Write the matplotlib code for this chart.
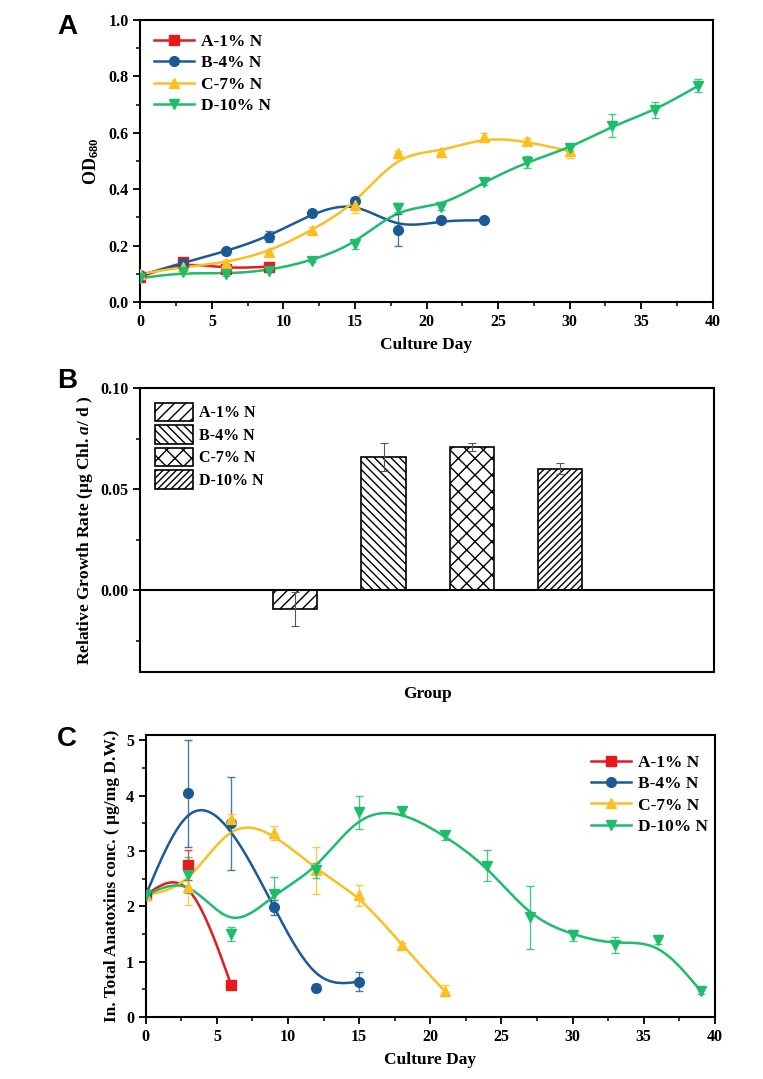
import matplotlib
matplotlib.use("Agg")
import matplotlib.pyplot as plt
import numpy as np
from matplotlib.ticker import MultipleLocator, FormatStrFormatter
from matplotlib.patches import Patch

plt.rcParams['font.family'] = ['Liberation Serif', 'DejaVu Serif']
plt.rcParams['font.weight'] = 'bold'
plt.rcParams['axes.labelweight'] = 'bold'
plt.rcParams['mathtext.fontset'] = 'custom'
plt.rcParams['mathtext.rm'] = 'Liberation Serif:bold'
plt.rcParams['mathtext.it'] = 'Liberation Serif:bold:italic'
plt.rcParams['mathtext.bf'] = 'Liberation Serif:bold'
plt.rcParams['hatch.linewidth'] = 1.0

groups = ['A-1% N', 'B-4% N', 'C-7% N', 'D-10% N']
colors = ['#e8181c', '#1b5a98', '#fbbf22', '#1dbd6b']
markers = ['s', 'o', '^', 'v']

# panel A: OD680 growth curves
od_days = [
    [0, 3, 6, 9],
    [0, 3, 6, 9, 12, 15, 18, 21, 24],
    [0, 3, 6, 9, 12, 15, 18, 21, 24, 27, 30],
    [0, 3, 6, 9, 12, 15, 18, 21, 24, 27, 30, 33, 36, 39],
]
od_vals = [
    [0.090, 0.143, 0.118, 0.126],
    [0.095, 0.140, 0.180, 0.232, 0.315, 0.360, 0.257, 0.290, 0.290],
    [0.100, 0.125, 0.140, 0.178, 0.255, 0.345, 0.527, 0.532, 0.585, 0.570, 0.535],
    [0.085, 0.105, 0.100, 0.112, 0.147, 0.205, 0.335, 0.337, 0.425, 0.497, 0.545, 0.625, 0.680, 0.767],
]
od_err = [
    [0.005, 0.008, 0.008, 0.006],
    [0.005, 0.008, 0.012, 0.020, 0.008, 0.010, 0.057, 0.006, 0.005],
    [0.005, 0.008, 0.008, 0.008, 0.010, 0.028, 0.008, 0.008, 0.015, 0.010, 0.025],
    [0.005, 0.006, 0.006, 0.006, 0.006, 0.015, 0.015, 0.010, 0.010, 0.020, 0.010, 0.040, 0.028, 0.022],
]

# panel B: relative growth rate
rgr_vals = [-0.0091, 0.0662, 0.0710, 0.0603]
rgr_err = [0.0083, 0.0070, 0.0020, 0.0027]
hatches = ['///', '\\\\\\\\', 'xx', '/////']

# panel C: anatoxins
atx_days = [
    [0, 3, 6],
    [0, 3, 6, 9, 12, 15],
    [0, 3, 6, 9, 12, 15, 18, 21],
    [0, 3, 6, 9, 12, 15, 18, 21, 24, 27, 30, 33, 36, 39],
]
atx_vals = [
    [2.20, 2.75, 0.58],
    [2.20, 4.04, 3.50, 1.98, 0.53, 0.64],
    [2.20, 2.35, 3.58, 3.33, 2.65, 2.20, 1.30, 0.47],
    [2.20, 2.57, 1.50, 2.23, 2.65, 3.70, 3.72, 3.28, 2.73, 1.80, 1.48, 1.30, 1.40, 0.47],
]
atx_err = [
    [0.05, 0.27, 0.05],
    [0.05, 0.96, 0.84, 0.14, 0.06, 0.17],
    [0.05, 0.33, 0.08, 0.13, 0.42, 0.19, 0.03, 0.10],
    [0.05, 0.33, 0.13, 0.30, 0.13, 0.30, 0.05, 0.09, 0.28, 0.57, 0.10, 0.14, 0.08, 0.05],
]


def bspline(x, y, n=40):
    # uniform cubic B-spline, data points as control points,
    # phantom end points so the curve starts/ends on the data
    p = np.column_stack([np.asarray(x, float), np.asarray(y, float)])
    q = np.vstack([2 * p[0] - p[1], p, 2 * p[-1] - p[-2]])
    t = np.linspace(0, 1, n)
    b0 = (1 - t) ** 3 / 6
    b1 = (3 * t ** 3 - 6 * t ** 2 + 4) / 6
    b2 = (-3 * t ** 3 + 3 * t ** 2 + 3 * t + 1) / 6
    b3 = t ** 3 / 6
    segs = []
    for j in range(len(q) - 3):
        seg = (np.outer(b0, q[j]) + np.outer(b1, q[j + 1]) +
               np.outer(b2, q[j + 2]) + np.outer(b3, q[j + 3]))
        segs.append(seg)
    c = np.vstack(segs)
    return c[:, 0], c[:, 1]


def style_axes(ax):
    for s in ax.spines.values():
        s.set_linewidth(1.5)
    ax.tick_params(axis='both', which='major', direction='out', length=5, width=1.3,
                   labelsize=11.5, top=False, right=False)
    ax.tick_params(axis='both', which='minor', direction='out', length=3, width=1.1,
                   top=False, right=False)
    for lab in ax.get_xticklabels() + ax.get_yticklabels():
        lab.set_fontweight('bold')


def draw_lines(ax, days, vals, errs):
    for i in range(len(groups)):
        cx, cy = bspline(days[i], vals[i])
        ax.plot(cx, cy, color=colors[i], lw=1.8, zorder=2)
        ax.errorbar(days[i], vals[i], yerr=errs[i], fmt='none', ecolor=colors[i],
                    elinewidth=1.0, capsize=3, capthick=1.0, alpha=0.8, zorder=3)
        ax.plot(days[i], vals[i], linestyle='none', marker=markers[i], color=colors[i],
                markersize=7, zorder=4)


fig = plt.figure(figsize=(7.63, 10.79), dpi=100)

# ---- panel A
axA = fig.add_axes([0.184, 0.720, 0.750, 0.2615])
draw_lines(axA, od_days, od_vals, od_err)
axA.set_xlim(0, 40)
axA.set_ylim(0, 1.0)
axA.xaxis.set_major_locator(MultipleLocator(5))
axA.xaxis.set_minor_locator(MultipleLocator(2.5))
axA.yaxis.set_major_locator(MultipleLocator(0.2))
axA.yaxis.set_minor_locator(MultipleLocator(0.1))
axA.set_xlabel('Culture Day', fontsize=12.5, fontweight='bold', labelpad=5)
axA.set_ylabel('OD$_{680}$', fontsize=13, fontweight='bold', labelpad=5)
style_axes(axA)
hA = [plt.Line2D([], [], color=colors[i], marker=markers[i], lw=1.8, markersize=7)
      for i in range(4)]
axA.legend(hA, groups, loc='upper left', frameon=False, handlelength=2.3,
           prop={'weight': 'bold', 'size': 12.5}, labelspacing=0.3,
           borderaxespad=0.4, handletextpad=0.4)
fig.text(0.075, 0.987, 'A', fontsize=20, fontweight='bold', family='Liberation Sans',
         va='top', ha='left')

# ---- panel B
axB = fig.add_axes([0.184, 0.377, 0.752, 0.263])
xpos = np.arange(1, 5)
for i in range(4):
    axB.bar(xpos[i], rgr_vals[i], width=0.5, color='white', edgecolor='black',
            linewidth=1.2, hatch=hatches[i], zorder=2)
    axB.errorbar(xpos[i], rgr_vals[i], yerr=rgr_err[i], fmt='none', ecolor='#555555',
                 elinewidth=0.8, capsize=3, capthick=0.8, zorder=3)
axB.axhline(0, color='black', lw=1.5, zorder=4)
axB.set_xlim(-0.75, 5.74)
axB.set_ylim(-0.0405, 0.10)
axB.set_xticks([])
axB.yaxis.set_major_locator(MultipleLocator(0.05))
axB.yaxis.set_minor_locator(MultipleLocator(0.025))
axB.yaxis.set_major_formatter(FormatStrFormatter('%.2f'))
axB.set_xlabel('Group', fontsize=12.5, fontweight='bold', labelpad=10)
axB.set_ylabel('Relative Growth Rate (μg Chl. $a$/ d )', fontsize=12.5,
               fontweight='bold', labelpad=4)
style_axes(axB)
hB = [Patch(facecolor='white', edgecolor='black', hatch=hatches[i], linewidth=1.2)
      for i in range(4)]
axB.legend(hB, groups, loc='upper left', frameon=False, handlelength=2.4,
           handleheight=1.4, prop={'weight': 'bold', 'size': 11.5},
           labelspacing=0.25, borderaxespad=0.5, handletextpad=0.35)
fig.text(0.075, 0.659, 'B', fontsize=20, fontweight='bold', family='Liberation Sans',
         va='top', ha='left')

# ---- panel C
axC = fig.add_axes([0.191, 0.0575, 0.746, 0.2615])
draw_lines(axC, atx_days, atx_vals, atx_err)
axC.set_xlim(0, 40)
axC.set_ylim(0, 5.1)
axC.xaxis.set_major_locator(MultipleLocator(5))
axC.xaxis.set_minor_locator(MultipleLocator(2.5))
axC.yaxis.set_major_locator(MultipleLocator(1))
axC.yaxis.set_minor_locator(MultipleLocator(0.5))
axC.set_xlabel('Culture Day', fontsize=12.5, fontweight='bold', labelpad=5)
axC.set_ylabel('In. Total Anatoxins conc. ( μg/mg D.W.)', fontsize=12.5,
               fontweight='bold', labelpad=4)
style_axes(axC)
hC = [plt.Line2D([], [], color=colors[i], marker=markers[i], lw=1.8, markersize=7)
      for i in range(4)]
axC.legend(hC, groups, loc='upper right', frameon=False, handlelength=2.3,
           prop={'weight': 'bold', 'size': 12.5}, labelspacing=0.3,
           bbox_to_anchor=(1.015, 0.985), handletextpad=0.4)
fig.text(0.075, 0.327, 'C', fontsize=20, fontweight='bold', family='Liberation Sans',
         va='top', ha='left')

fig.savefig('out.png', dpi=100, facecolor='white')
